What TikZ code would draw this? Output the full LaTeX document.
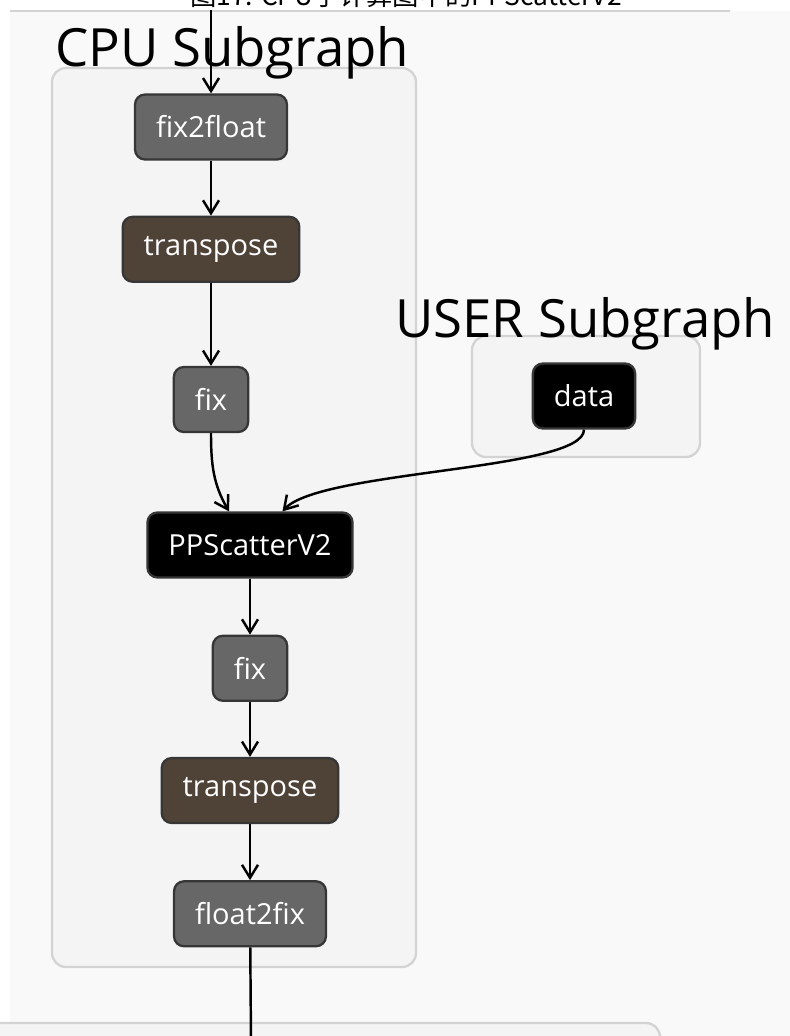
\documentclass[tikz,border=0pt]{standalone}
\usepackage{fontspec}
\setmainfont{Open Sans}
\newfontfamily\cjk{Noto Sans CJK SC}
\usetikzlibrary{arrows.meta,positioning}

\definecolor{panelbg}{HTML}{F9F9F9}
\definecolor{clusterbg}{HTML}{F4F4F4}
\definecolor{clusterline}{HTML}{D3D3D3}
\definecolor{opgray}{HTML}{676767}
\definecolor{opbrown}{HTML}{4F4237}
\definecolor{opborder}{HTML}{363636}

\begin{document}
\begin{tikzpicture}[
    x=0.02cm, y=-0.02cm,
    node distance=1.1cm,
    opbox/.style={rectangle, draw=opborder, line width=1.3pt, rounded corners=0.2cm, text=white, font=\fontsize{16.5}{19}\selectfont, minimum height=1.3cm, inner xsep=0.42cm},
    graybox/.style={opbox, fill=opgray},
    brownbox/.style={opbox, fill=opbrown},
    blackbox/.style={opbox, fill=black},
    cluster/.style={draw=clusterline, fill=clusterbg, line width=1.3pt, rounded corners=0.28cm},
    clusterlabel/.style={anchor=base west, inner sep=0pt, font=\fontsize{30}{36}\selectfont},
    arrow/.style={-{Straight Barb[length=0.26cm, width=0.32cm]}, line width=1.4pt, draw=black},
    line/.style={line width=1.4pt, draw=black}
]
    \useasboundingbox (0,0) rectangle (790,1036);
    \clip (0,0) rectangle (790,1036);
    % page and graph panel
    \fill[white] (0,0) rectangle (790,1036);
    \fill[panelbg] (10,11) rectangle (790,1036);
    \draw[clusterline, line width=1.5pt] (10,11) -- (730,11);
    \node[anchor=base, inner sep=0pt, font=\cjk\fontsize{15}{18}\selectfont] (caption) at (406,5) {图17: CPU子计算图中的PPScatterV2};

    % subgraph frames
    \draw[cluster] (52,68) rectangle (416,967);
    \node[clusterlabel] (cpulabel) at (55,66) {CPU Subgraph};
    \draw[cluster] (472,336) rectangle (700,457);
    \node[clusterlabel] (userlabel) at (395,337) {USER Subgraph};
    \draw[cluster] (-20,1023) rectangle (660,1100);

    % operators
    \node[graybox] (fixfloat) at (211,127) {fix2float};
    \node[brownbox, below=of fixfloat] (transA) {transpose};
    \node[graybox, below=1.66cm of transA] (fixA) {fix};
    \node[blackbox] (scatter) at (250,545) {PPScatterV2};
    \node[graybox, below=1.12cm of scatter] (fixB) {fix};
    \node[brownbox, below=of fixB] (transB) {transpose};
    \node[graybox, below=1.12cm of transB] (floatfix) {float2fix};
    \node[blackbox] (data) at (584,396) {data};

    \coordinate (in) at (211,10);
    \coordinate (out) at (251,1040);

    \draw[arrow] (in) -- (fixfloat);
    \draw[arrow] (fixfloat) -- (transA);
    \draw[arrow] (transA) -- (fixA);
    \draw[arrow] (fixA.south) to[out=-90, in=120] (scatter.122);
    \draw[arrow] (data.south) .. controls +(0,41) and (320,470) .. (scatter.46);
    \draw[arrow] (scatter) -- (fixB);
    \draw[arrow] (fixB) -- (transB);
    \draw[arrow] (transB) -- (floatfix);
    \draw[line] (floatfix) -- (out);
\end{tikzpicture}
\end{document}
